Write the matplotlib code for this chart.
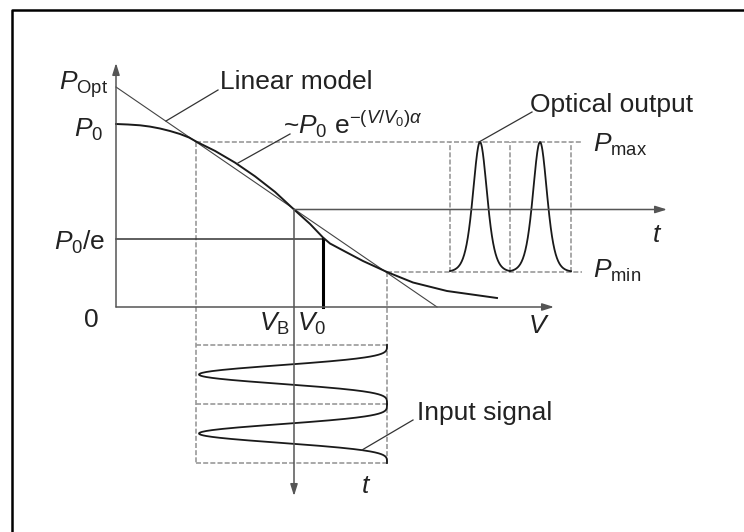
import numpy as np
import matplotlib
matplotlib.use('Agg')
import matplotlib.pyplot as plt

plt.rcParams['font.family'] = ['Liberation Sans', 'DejaVu Sans']
plt.rcParams['mathtext.fontset'] = 'custom'
plt.rcParams['mathtext.rm'] = 'Liberation Sans'
plt.rcParams['mathtext.it'] = 'Liberation Sans:italic'
plt.rcParams['mathtext.bf'] = 'Liberation Sans:bold'

# transfer curve P(V) (diagram units)
curve_V = [0, 12, 24, 34, 44, 54, 64, 73, 81, 99, 119, 139, 159, 178,
           194, 207, 214, 229, 247, 271, 297, 331, 381]
curve_P = [183, 182.5, 181.7, 180.4, 178.5, 176, 173, 169.5, 165, 156.1,
           144.4, 130.7, 115.1, 97.5, 83.1, 69.5, 63.5, 55.5, 46, 35,
           24.5, 16, 9]

# levels
P_opt = 220      # linear model at V = 0
V_lin_end = 321  # linear model reaches P = 0
P0 = 183
P0_e = 68
V_B = 178
P_B = 97.5
V_0 = 207
P_max = 165
P_min = 35
V_lo = 80        # bias swing box
V_hi = 271
V_in_tip = 83    # input signal reaches left

# time grid of the signals
out_edges = [334, 394, 455]
out_peaks = [364, 424]
out_w = 9.5
in_edges = [-38, -97, -156]
in_tips = [-67.5, -126.5]
in_power = 4.4

# axes extents
P_top = 244
V_right = 438
t_right = 551
t_down = -189
out_dash_end = 466

fig = plt.figure(figsize=(7.44, 5.32), dpi=100)
ax = fig.add_axes([0, 0, 1, 1])
ax.set_xlim(-116, 628)
ax.set_ylim(-225, 307)
ax.axis('off')

axis_col = '#555555'
dash_col = '#9a9a9a'
txt_col = '#222222'
fs = 19

# frame
ax.plot([-104, -104, 640], [-240, 297, 297], color='black', lw=1.8,
        solid_capstyle='projecting', clip_on=False)


def arrow(x0, y0, x1, y1, lw=1.1, col=axis_col):
    ax.annotate('', xy=(x1, y1), xytext=(x0, y0),
                arrowprops=dict(arrowstyle='-|>,head_length=0.7,head_width=0.22',
                                color=col, lw=lw, shrinkA=0, shrinkB=0))


def dashed(xs, ys):
    ax.plot(xs, ys, color=dash_col, lw=1.2, dashes=(3, 1.3))


# axes
arrow(0, 0, 0, P_top)
arrow(0, 0, V_right, 0)
arrow(V_B, P_B, t_right, P_B)
arrow(V_B, P_B, V_B, t_down)

# dashed guides
dashed([V_lo, out_dash_end], [P_max, P_max])
dashed([V_hi, out_dash_end], [P_min, P_min])
dashed([V_lo, V_lo], [P_max, in_edges[-1]])
dashed([V_hi, V_hi], [P_min, in_edges[-1]])
for t in in_edges:
    dashed([V_lo, V_hi], [t, t])
for t in out_edges:
    dashed([t, t], [P_min, P_max])

# P0/e and V0 markers
ax.plot([0, V_0], [P0_e, P0_e], color='#333333', lw=1.1)
ax.plot([V_0, V_0], [P0_e, 0], color='black', lw=2.2)

# linear model and transfer curve
ax.plot([0, V_lin_end], [P_opt, 0], color='#444444', lw=0.8)
ax.plot(curve_V, curve_P, color='#1a1a1a', lw=1.4)

# optical output pulses
for i, pk in enumerate(out_peaks):
    t = np.linspace(out_edges[i], out_edges[i + 1], 200)
    g = 1 / np.cosh((t - pk) / out_w) ** 2
    ax.plot(t, P_min + (P_max - P_min) * g, color='#1a1a1a', lw=1.3)

# input signal (time runs downwards)
for i, tip in enumerate(in_tips):
    t = np.linspace(in_edges[i], in_edges[i + 1], 200)
    half = abs(in_edges[i + 1] - in_edges[i])
    g = np.cos(np.pi * (t - tip) / half) ** in_power
    ax.plot(V_hi - (V_hi - V_in_tip) * g, t, color='#1a1a1a', lw=1.3)

# leader lines
lead = dict(color='#333333', lw=0.9)
ax.plot([102, 50], [217, 186], **lead)
ax.plot([174, 122], [173, 144], **lead)
ax.plot([416, 363], [195, 165], **lead)
ax.plot([297, 246], [-113, -143], **lead)

# labels
kw = dict(fontsize=fs, color=txt_col, va='baseline')
ax.text(-8, 217, r'$P_{\mathrm{Opt}}$', ha='right', **kw)
ax.text(-13, 170, r'$P_0$', ha='right', **kw)
ax.text(-11, 57, r'$P_0$/e', ha='right', **kw)
ax.text(-25, -20, '0', ha='center', **kw)
ax.text(174, -24, r'$V_{\mathrm{B}}$', ha='right', **kw)
ax.text(181, -24, r'$V_0$', ha='left', **kw)
ax.text(423, -26, r'$V$', ha='center', **kw)
ax.text(541, 65, r'$t$', ha='center', **kw)
ax.text(477, 155, r'$P_{\mathrm{max}}$', ha='left', **kw)
ax.text(477, 29, r'$P_{\mathrm{min}}$', ha='left', **kw)
ax.text(414, 195, 'Optical output', ha='left', **kw)
ax.text(104, 218, 'Linear model', ha='left', **kw)
ax.text(167, 173, r'~$P_0$ e$^{-(V/V_0)\alpha}$', ha='left', **kw)
ax.text(301, -113, 'Input signal', ha='left', **kw)
ax.text(250, -186, r'$t$', ha='center', **kw)

fig.savefig('out.png', dpi=100)
